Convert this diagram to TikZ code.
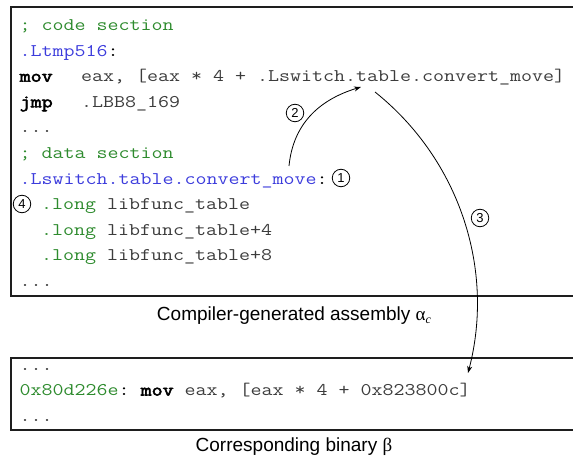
\documentclass[tikz,border=0pt]{standalone}
\usepackage{fontspec}
\setmainfont{Liberation Sans}
\setmonofont{Latin Modern Mono}[FakeStretch=1.2,AutoFakeBold=3]
\newfontfamily\grkfont{Liberation Serif}
\usetikzlibrary{arrows.meta}
\definecolor{cgreen}{RGB}{46,139,46}
\definecolor{cblue}{RGB}{60,60,220}
\definecolor{cgray}{RGB}{60,60,60}
\definecolor{cframe}{RGB}{30,30,30}
\newcommand{\cg}[1]{\textcolor{cgreen}{#1}}
\newcommand{\kwd}[1]{\textcolor{black}{\bfseries #1}}
\tikzset{
  code/.style={anchor=base west,inner sep=0pt,font=\ttfamily\fontsize{17.8bp}{20bp}\selectfont,text=cgray},
  cmt/.style={code,text=cgreen},
  lbl/.style={code,text=cblue},
  kw/.style={code,text=black,font=\ttfamily\bfseries\fontsize{17.8bp}{20bp}\selectfont},
  num/.style={circle,draw=black,line width=0.8bp,inner sep=0pt,minimum size=17.5bp,font=\fontsize{13bp}{14bp}\selectfont},
  frame/.style={draw=cframe,line width=1.2bp},
  conn/.style={draw=black,line width=0.8bp,-{Stealth[length=7bp,width=5bp]}},
  captext/.style={anchor=base,inner sep=0pt,font=\fontsize{19bp}{22bp}\selectfont}
}
\begin{document}
\begin{tikzpicture}[x=1bp,y=-1bp]
\useasboundingbox (0,0) rectangle (573,459);
% frames
\draw[frame] (574,7) -- (11,7) -- (11,296) -- (574,296);
\draw[frame] (574,358) -- (11,358) -- (11,430) -- (574,430);
% top code
\node[cmt] (l0) at (19.5,30.5) {; code section};
\node[lbl] (l1) at (19.5,56.1) {.Ltmp516\textcolor{black}{:}};
\node[kw] (l2k) at (19.5,81.7) {mov};
\node[code] (l2) at (81,81.7) {eax, [eax * 4 + .Lswitch.table.convert\_move]};
\node[kw] (l3k) at (19.5,107.3) {jmp};
\node[code] (l3) at (81,107.3) {.LBB8\_169};
\node[code] (l4) at (19.5,132.9) {...};
\node[cmt] (l5) at (19.5,158.5) {; data section};
\node[lbl] (l6) at (19.5,184.1) {.Lswitch.table.convert\_move\textcolor{black}{:}};
\node[code] (l7) at (41,209.7) {\cg{.long} libfunc\_table};
\node[code] (l8) at (41,235.3) {\cg{.long} libfunc\_table+4};
\node[code] (l9) at (41,260.9) {\cg{.long} libfunc\_table+8};
\node[code] (l10) at (19.5,286.5) {...};
% bottom code
\node[code] (b0) at (19.5,370.5) {...};
\node[code] (b1) at (19.5,395.5) {\cg{0x80d226e}\textcolor{black}{:} \kwd{mov} eax, [eax * 4 + 0x823800c]};
\node[code] (b2) at (19.5,421.5) {...};
% captions
\node[captext] (cap1) at (294,320) {Compiler-generated assembly {\grkfont α}\raisebox{-0.35ex}{\grkfont\itshape\fontsize{12bp}{12bp}\selectfont c}};
\node[captext] (cap2) at (294,451) {Corresponding binary {\grkfont β}};
% numbers
\node[num] (n1) at (341,178) {1};
\node[num] (n2) at (295,113) {2};
\node[num] (n3) at (480,218) {3};
\node[num] (n4) at (22,204) {4};
% arrows
\coordinate (a2s) at (289,166);
\coordinate (a2e) at (361,87);
\coordinate (a3s) at (375,92);
\coordinate (a3e) at (468,373);
\draw[conn] (a2s) .. controls (293,125) and (318,100) .. (a2e);
\draw[conn] (a3s) .. controls (460,160) and (495,270) .. (a3e);
\end{tikzpicture}
\end{document}
